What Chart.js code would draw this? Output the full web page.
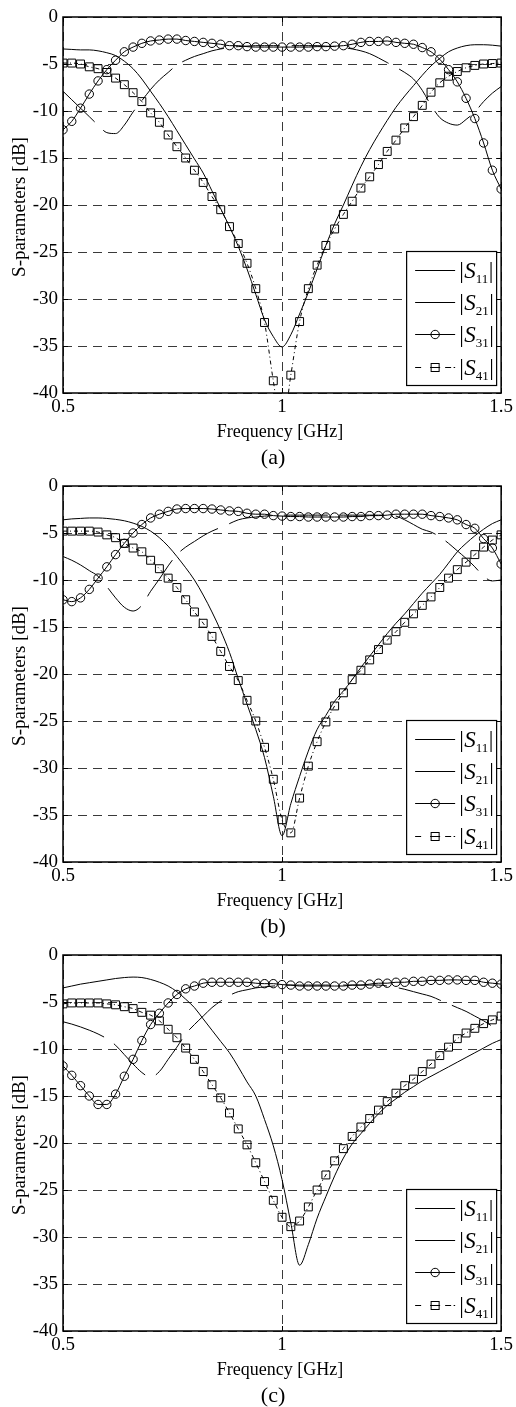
<!DOCTYPE html>
<html>
<head>
<meta charset="utf-8">
<script src="https://cdn.jsdelivr.net/npm/chart.js@4.4.0/dist/chart.umd.min.js"></script>
<style>
  html, body { margin: 0; padding: 0; background: #fff; }
  canvas { display: block; }
</style>
</head>
<body>
<canvas id="chartA" width="516" height="469"></canvas>
<canvas id="chartB" width="516" height="469"></canvas>
<canvas id="chartC" width="516" height="469"></canvas>
<script>
// frequency samples [GHz]
const freq = [
  0.50, 0.52, 0.54, 0.56, 0.58, 0.60, 0.62, 0.64, 0.66, 0.68,
  0.70, 0.72, 0.74, 0.76, 0.78, 0.80, 0.82, 0.84, 0.86, 0.88,
  0.90, 0.92, 0.94, 0.96, 0.98,
  1.00, 1.02, 1.04, 1.06, 1.08, 1.10, 1.12, 1.14, 1.16, 1.18,
  1.20, 1.22, 1.24, 1.26, 1.28, 1.30, 1.32, 1.34, 1.36, 1.38,
  1.40, 1.42, 1.44, 1.46, 1.48, 1.50
];

// panel (a)
const s11A = [
  -3.4, -3.45, -3.5, -3.5, -3.6, -3.8, -4.1, -4.7, -5.5, -6.6,
  -7.9, -9.2, -10.6, -12.1, -13.6, -15.1, -16.6, -18.5, -20.4, -22.3,
  -24.4, -26.8, -29.5, -32.2, -34.0,
  -35.1, -33.8, -31.6, -29.3, -26.8, -24.3, -22.0, -20.0, -17.9, -15.9,
  -14.1, -12.5, -11.0, -9.6, -8.4, -7.3, -6.2, -5.2, -4.4, -3.7,
  -3.3, -3.05, -2.95, -2.95, -3.0, -3.1
];
const s21A = [
  -7.9, -8.8, -9.7, -10.6, -11.5, -12.3, -12.4, -11.5, -10.1, -8.9,
  -7.7, -6.7, -5.9, -5.1, -4.6, -4.2, -3.9, -3.6, -3.4, -3.25,
  -3.15, -3.1, -3.05, -3.05, -3.05,
  -3.05, -3.05, -3.05, -3.05, -3.05, -3.1, -3.15, -3.25, -3.4, -3.6,
  -3.9, -4.35, -4.85, -5.35, -5.9, -6.6, -7.8, -9.4, -10.7, -11.3,
  -11.5, -10.9, -10.1, -9.0, -8.1, -7.4
];
const s31A = [
  -12.0, -11.1, -9.7, -8.2, -6.8, -5.6, -4.6, -3.7, -3.2, -2.8,
  -2.55, -2.45, -2.35, -2.35, -2.5, -2.6, -2.7, -2.8, -2.9, -3.05,
  -3.05, -3.15, -3.2, -3.2, -3.2,
  -3.2, -3.2, -3.2, -3.2, -3.15, -3.15, -3.1, -3.05, -2.9, -2.7,
  -2.6, -2.6, -2.55, -2.7, -2.8, -2.9, -3.25, -3.7, -4.5, -5.6,
  -6.9, -8.65, -10.8, -13.4, -16.3, -18.3
];
const s41A = [
  -4.9, -4.9, -5.0, -5.3, -5.5, -5.9, -6.5, -7.2, -8.05, -9.0,
  -10.2, -11.2, -12.55, -13.8, -15.0, -16.3, -17.6, -19.1, -20.5, -22.3,
  -24.1, -26.2, -28.9, -32.5, -38.7,
  -44.0, -38.1, -32.4, -28.9, -26.4, -24.3, -22.55, -21.0, -19.6, -18.2,
  -17.0, -15.7, -14.3, -13.1, -11.8, -10.6, -9.4, -8.0, -7.0, -6.3,
  -5.8, -5.4, -5.15, -5.0, -4.95, -4.9
];

// panel (b)
const s11B = [
  -3.6, -3.5, -3.45, -3.4, -3.4, -3.45, -3.55, -3.7, -3.95, -4.3,
  -4.8, -5.5, -6.4, -7.5, -8.7, -10.0, -11.6, -13.4, -15.4, -17.7,
  -20.5, -23.2, -25.9, -28.9, -33.0,
  -37.2, -33.8, -30.9, -28.2, -25.9, -24.4, -22.9, -21.8, -20.6, -19.3,
  -18.1, -16.9, -15.7, -14.6, -13.6, -12.5, -11.4, -10.4, -9.4, -8.2,
  -7.0, -6.1, -5.3, -4.6, -4.0, -3.6
];
const s21B = [
  -7.5, -7.9, -8.4, -9.0, -9.6, -10.7, -11.9, -12.9, -13.3, -12.7,
  -11.2, -9.9, -8.5, -7.3, -6.5, -5.9, -5.3, -4.8, -4.4, -4.0,
  -3.6, -3.4, -3.3, -3.2, -3.15,
  -3.1, -3.1, -3.1, -3.1, -3.1, -3.1, -3.1, -3.1, -3.1, -3.1,
  -3.1, -3.1, -3.1, -3.2, -3.6, -4.1, -4.6, -4.9, -5.4, -6.1,
  -6.9, -7.7, -8.6, -9.6, -10.1, -10.0
];
const s31B = [
  -12.1, -12.3, -11.9, -11.0, -9.8, -8.6, -7.3, -6.1, -5.0, -4.1,
  -3.4, -3.0, -2.7, -2.45, -2.4, -2.4, -2.4, -2.45, -2.55, -2.65,
  -2.7, -2.9, -3.0, -3.0, -3.15,
  -3.2, -3.25, -3.25, -3.3, -3.3, -3.3, -3.3, -3.3, -3.25, -3.25,
  -3.15, -3.15, -3.1, -3.0, -3.0, -3.0, -3.0, -3.15, -3.25, -3.4,
  -3.6, -4.1, -4.5, -5.6, -6.6, -8.3
];
const s41B = [
  -4.8, -4.8, -4.8, -4.8, -4.9, -5.2, -5.5, -6.1, -6.6, -7.0,
  -7.9, -8.8, -9.8, -10.8, -12.1, -13.4, -14.6, -16.0, -17.6, -19.2,
  -20.7, -22.8, -25.0, -27.8, -31.2,
  -35.5, -36.9, -33.2, -29.8, -27.2, -25.1, -23.4, -22.0, -20.6, -19.6,
  -18.5, -17.4, -16.4, -15.5, -14.5, -13.6, -12.7, -11.8, -10.8, -9.8,
  -8.9, -8.1, -7.3, -6.5, -5.75, -5.2
];

// panel (c)
const s11C = [
  -3.5, -3.3, -3.1, -2.95, -2.8, -2.65, -2.5, -2.4, -2.35, -2.4,
  -2.6, -2.9, -3.3, -3.9, -4.7, -5.6, -6.8, -8.0, -9.2, -10.4,
  -11.9, -13.5, -15.0, -17.5, -20.3,
  -23.9, -28.5, -33.0, -30.8, -28.0, -25.7, -23.5, -21.6, -20.1, -19.0,
  -17.9, -16.9, -16.0, -15.3, -14.6, -14.0, -13.4, -12.9, -12.4, -11.9,
  -11.4, -10.9, -10.4, -9.9, -9.4, -9.0
];
const s21C = [
  -7.1, -7.35, -7.65, -8.0, -8.4, -8.9, -9.6, -10.6, -11.6, -12.5,
  -13.0, -12.4, -11.1, -9.8, -8.4, -7.4, -6.5, -5.6, -4.9, -4.3,
  -3.9, -3.7, -3.5, -3.4, -3.3,
  -3.25, -3.2, -3.2, -3.2, -3.2, -3.2, -3.2, -3.2, -3.2, -3.2,
  -3.2, -3.2, -3.3, -3.45, -3.65, -3.9, -4.15, -4.4, -4.8, -5.2,
  -5.6, -6.0, -6.5, -7.0, -7.6, -8.3
];
const s31C = [
  -11.8, -12.8, -13.9, -15.0, -15.9, -15.9, -14.8, -12.9, -11.1, -9.1,
  -7.4, -6.2, -5.1, -4.2, -3.6, -3.3, -3.0, -2.9, -2.9, -2.9,
  -2.9, -2.9, -3.0, -3.05, -3.05,
  -3.15, -3.2, -3.3, -3.3, -3.3, -3.3, -3.3, -3.3, -3.2, -3.2,
  -3.1, -3.0, -3.0, -2.9, -2.9, -2.8, -2.8, -2.7, -2.7, -2.65,
  -2.65, -2.7, -2.7, -2.9, -3.0, -3.1
];
const s41C = [
  -5.2, -5.1, -5.1, -5.1, -5.1, -5.2, -5.3, -5.5, -5.7, -6.1,
  -6.4, -7.0, -7.9, -8.8, -9.9, -11.1, -12.4, -13.8, -15.2, -16.8,
  -18.5, -20.2, -22.1, -24.1, -26.1,
  -27.9, -28.9, -28.3, -26.8, -25.0, -23.4, -21.9, -20.6, -19.3, -18.3,
  -17.4, -16.5, -15.6, -14.7, -13.9, -13.2, -12.4, -11.6, -10.7, -9.8,
  -8.9, -8.3, -7.8, -7.3, -6.9, -6.5
];

const legendSubs = ['11', '21', '31', '41'];
const xTitle = 'Frequency [GHz]';
const yTitle = 'S-parameters [dB]';

const FONT = '"Liberation Serif", "Times New Roman", Times, serif';

function toPoints(values) {
  return freq.map((f, i) => ({ x: f, y: values[i] }));
}

// legend drawn like the Matlab box (subscripts can't be done with the builtin one)
function drawLegend(chart) {
  const ctx = chart.ctx;
  const a = chart.chartArea;
  const left = a.right - 95, right = a.right - 5;
  const top = Math.round(chart.scales.y.getPixelForValue(-25)) - 1;
  const bottom = a.bottom - 8;
  const rows = [19, 51, 83, 116];

  ctx.save();
  ctx.fillStyle = '#fff';
  ctx.fillRect(left, top, right - left, bottom - top);
  ctx.strokeStyle = '#000';
  ctx.lineWidth = 1.2;
  ctx.strokeRect(left + 0.5, top + 0.5, right - left, bottom - top);

  ctx.lineWidth = 1;
  legendSubs.forEach((sub, i) => {
    const y = top + rows[i] + 0.5;
    const x0 = left + 9, x1 = left + 49, xm = (x0 + x1) / 2;
    ctx.beginPath();
    if (i < 3) {
      ctx.moveTo(x0, y); ctx.lineTo(x1, y);
    } else {
      ctx.moveTo(x0, y); ctx.lineTo(x0 + 6, y);
      ctx.moveTo(xm - 5, y); ctx.lineTo(xm + 5, y);
      ctx.moveTo(x1 - 10, y); ctx.lineTo(x1 - 4, y);
      ctx.moveTo(x1 - 1.5, y); ctx.lineTo(x1, y);
    }
    ctx.stroke();
    if (i === 2) {
      ctx.beginPath();
      ctx.arc(xm, y, 4.2, 0, Math.PI * 2);
      ctx.stroke();
    }
    if (i === 3) {
      ctx.strokeRect(xm - 4, y - 4, 8, 8);
    }

    let x = left + 53;
    ctx.fillStyle = '#000';
    ctx.textAlign = 'left';
    ctx.textBaseline = 'alphabetic';
    ctx.font = `23px ${FONT}`;
    ctx.fillText('|', x, y + 7);
    x += ctx.measureText('|').width + 0.5;
    ctx.font = `italic 23px ${FONT}`;
    ctx.fillText('S', x, y + 7);
    x += ctx.measureText('S').width;
    ctx.font = `13px ${FONT}`;
    ctx.fillText(sub, x, y + 12);
    x += ctx.measureText(sub).width + 0.5;
    ctx.font = `23px ${FONT}`;
    ctx.fillText('|', x, y + 7);
  });
  ctx.restore();
}

const paperPlugin = {
  id: 'paper',
  afterDatasetsDraw(chart) {
    drawLegend(chart);
  },
  afterDraw(chart, args, opts) {
    const ctx = chart.ctx;
    const a = chart.chartArea;
    const xs = chart.scales.x, ys = chart.scales.y;
    ctx.save();
    ctx.strokeStyle = '#000';
    ctx.lineWidth = 1.5;
    ctx.strokeRect(a.left, a.top, a.right - a.left, a.bottom - a.top);

    // small inward ticks, Matlab style
    ctx.lineWidth = 1;
    ys.ticks.forEach(t => {
      const y = Math.round(ys.getPixelForValue(t.value)) + 0.5;
      ctx.beginPath();
      ctx.moveTo(a.left, y); ctx.lineTo(a.left + 5, y);
      ctx.moveTo(a.right, y); ctx.lineTo(a.right - 5, y);
      ctx.stroke();
    });
    xs.ticks.forEach(t => {
      const x = Math.round(xs.getPixelForValue(t.value)) + 0.5;
      ctx.beginPath();
      ctx.moveTo(x, a.bottom); ctx.lineTo(x, a.bottom - 5);
      ctx.moveTo(x, a.top); ctx.lineTo(x, a.top + 5);
      ctx.stroke();
    });

    ctx.fillStyle = '#000';
    ctx.textAlign = 'center';
    ctx.textBaseline = 'middle';
    ctx.font = `18px ${FONT}`;
    ctx.fillText(xTitle, (a.left + a.right) / 2 - 2, a.bottom + 39);
    ctx.font = `22px ${FONT}`;
    ctx.fillText(opts.caption, (a.left + a.right) / 2 - 9, a.bottom + 65);

    ctx.translate(20, (a.top + a.bottom) / 2 + 2);
    ctx.rotate(-Math.PI / 2);
    ctx.font = `19px ${FONT}`;
    ctx.fillText(yTitle, 0, 0);
    ctx.restore();
  }
};

function makeChart(id, caption, s11, s21, s31, s41) {
  return new Chart(document.getElementById(id), {
    type: 'line',
    plugins: [paperPlugin],
    data: {
      datasets: [
        {
          label: '|S11|', data: toPoints(s11),
          borderColor: '#000', borderWidth: 1, pointRadius: 0,
          cubicInterpolationMode: 'monotone'
        },
        {
          label: '|S21|', data: toPoints(s21),
          borderColor: '#000', borderWidth: 1, pointRadius: 0,
          borderDash: [44, 12],
          cubicInterpolationMode: 'monotone'
        },
        {
          label: '|S31|', data: toPoints(s31),
          borderColor: '#000', borderWidth: 1,
          pointStyle: 'circle', pointRadius: 4.2, pointBorderWidth: 1,
          pointBorderColor: '#000', pointBackgroundColor: 'rgba(0,0,0,0)',
          cubicInterpolationMode: 'monotone'
        },
        {
          label: '|S41|', data: toPoints(s41),
          borderColor: '#000', borderWidth: 1,
          borderDash: [4, 3, 1, 3],
          pointStyle: 'rect', pointRadius: 5.6, pointBorderWidth: 1,
          pointBorderColor: '#000', pointBackgroundColor: 'rgba(0,0,0,0)',
          cubicInterpolationMode: 'monotone'
        }
      ]
    },
    options: {
      responsive: false,
      animation: false,
      devicePixelRatio: 1,
      layout: { padding: { top: 17, right: 13, bottom: 0, left: 0 } },
      plugins: {
        legend: { display: false },
        tooltip: { enabled: false },
        paper: { caption: caption }
      },
      scales: {
        x: {
          type: 'linear', min: 0.5, max: 1.5,
          afterFit: (scale) => { scale.height = 76; },
          ticks: {
            stepSize: 0.5, autoSkip: false, maxRotation: 0, padding: 3,
            color: '#000', font: { family: FONT, size: 19 },
            callback: (v) => String(v)
          },
          grid: { color: '#3a3a3a', lineWidth: 1, drawTicks: false },
          border: { display: false, dash: [9, 6] }
        },
        y: {
          type: 'linear', min: -40, max: 0,
          afterFit: (scale) => { scale.width = 63; },
          ticks: {
            stepSize: 5, autoSkip: false, padding: 5,
            color: '#000', font: { family: FONT, size: 19 },
            callback: (v) => String(v)
          },
          grid: { color: '#3a3a3a', lineWidth: 1, drawTicks: false },
          border: { display: false, dash: [9, 6] }
        }
      }
    }
  });
}

makeChart('chartA', '(a)', s11A, s21A, s31A, s41A);
makeChart('chartB', '(b)', s11B, s21B, s31B, s41B);
makeChart('chartC', '(c)', s11C, s21C, s31C, s41C);
</script>
</body>
</html>
